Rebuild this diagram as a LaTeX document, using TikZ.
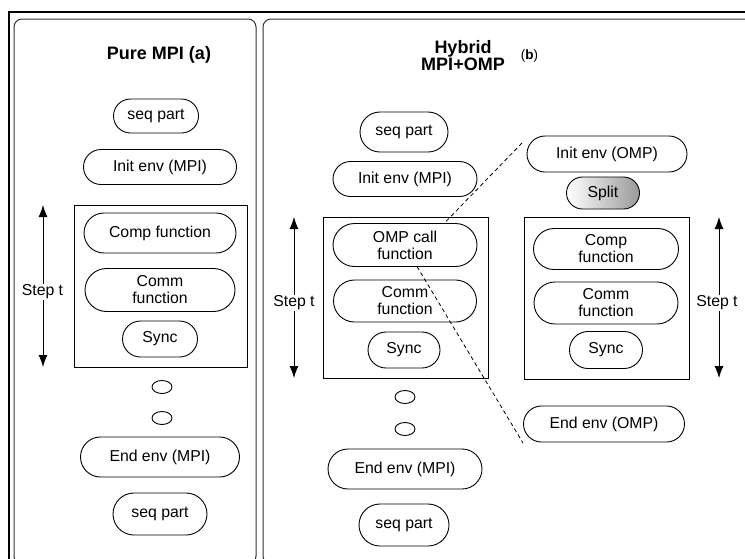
\documentclass[tikz,border=0pt]{standalone}
\usepackage{fontspec}
\setmainfont{Liberation Sans}
\usetikzlibrary{shapes.misc,shapes.geometric,arrows.meta}
\begin{document}
\begin{tikzpicture}[x=1pt,y=-1pt,
  blk/.style={draw, rounded rectangle, line width=0.9pt, inner sep=0pt, align=center,
    font=\fontsize{15.8}{17}\selectfont},
  boxfr/.style={draw, rectangle, line width=0.9pt, inner sep=0pt},
  dotel/.style={draw, ellipse, line width=0.9pt, inner sep=0pt, minimum width=20pt, minimum height=13pt},
  ttl/.style={align=center, font=\fontsize{18}{16}\selectfont\bfseries},
  steplbl/.style={fill=white, inner sep=1pt, font=\fontsize{15.8}{17}\selectfont},
  steparr/.style={line width=0.9pt, {Latex[length=12pt,width=9pt]}-{Latex[length=12pt,width=9pt]}},
  zoomln/.style={dashed, dash pattern=on 4pt off 3pt, line width=0.8pt},
  panel/.style={draw=black!80, line width=1pt, rounded corners=8pt}]
\useasboundingbox (0,0) rectangle (745,558);
\fill[white] (0,0) rectangle (745,558);
% frames
\draw[line width=1.2pt] (9,12) rectangle (752,566);
\draw[panel] (14,19) rectangle (256,564);
\draw[panel] (263,19) rectangle (752,564);

% ---------- panel (a)
\node[ttl] (ta) at (159,55) {Pure MPI (a)};
\node[boxfr, minimum width=173pt, minimum height=162pt] (ba) at (160.5,286) {};
\node[blk, minimum width=85pt, minimum height=34pt] (a1) at (156,116) {seq part};
\node[blk, minimum width=153pt, minimum height=35pt] (a2) at (160,167) {Init env (MPI)};
\node[blk, minimum width=152pt, minimum height=40pt] (a3) at (160,233) {Comp function};
\node[blk, minimum width=150pt, minimum height=43pt] (a4) at (160,290) {Comm\\function};
\node[blk, minimum width=75pt, minimum height=36pt] (a5) at (160,339) {Sync};
\node[dotel] (ad1) at (162,387) {};
\node[dotel] (ad2) at (162,418) {};
\node[blk, minimum width=159pt, minimum height=40pt] (a6) at (160,457) {End env (MPI)};
\node[blk, minimum width=94pt, minimum height=42pt] (a7) at (160,514) {seq part};
\coordinate (sa1) at (43,205);
\coordinate (sa2) at (43,367);
\draw[steparr] (sa1) -- (sa2);
\node[steplbl] (sla) at (42.5,292) {Step t};

% ---------- panel (b)
\node[ttl] (tb) at (463,55.5) {Hybrid\\MPI+OMP};
\node[font=\fontsize{13.5}{15}\selectfont, inner sep=0pt] (tbl) at (529.5,56.5) {(\textbf{b})};
\node[boxfr, minimum width=165pt, minimum height=161pt] (bb) at (405.5,297.5) {};
\node[blk, minimum width=88pt, minimum height=40pt] (b1) at (404,132) {seq part};
\node[blk, minimum width=144pt, minimum height=35pt] (b2) at (405,179) {Init env (MPI)};
\node[blk, minimum width=144pt, minimum height=43pt] (b3) at (405,245) {OMP call\\function};
\node[blk, minimum width=143pt, minimum height=42pt] (b4) at (405,301) {Comm\\function};
\node[blk, minimum width=72pt, minimum height=36pt] (b5) at (404,350) {Sync};
\node[dotel] (bd1) at (405,397) {};
\node[dotel] (bd2) at (405,429) {};
\node[blk, minimum width=154pt, minimum height=40pt] (b6) at (405,469) {End env (MPI)};
\node[blk, minimum width=90pt, minimum height=42pt] (b7) at (404,525) {seq part};
\coordinate (sb1) at (294,217);
\coordinate (sb2) at (294,378);
\draw[steparr] (sb1) -- (sb2);
\node[steplbl] (slb) at (294,303) {Step t};

% OMP expansion
\node[boxfr, minimum width=165pt, minimum height=162pt] (bc) at (606.5,298) {};
\node[blk, minimum width=160pt, minimum height=36pt] (c1) at (607,154) {Init env (OMP)};
\node[blk, minimum width=73pt, minimum height=32pt, left color=white, right color=black!40] (c2) at (603,193) {Split};
\node[blk, minimum width=145pt, minimum height=41pt] (c3) at (606,249) {Comp\\function};
\node[blk, minimum width=144pt, minimum height=42pt] (c4) at (606,303) {Comm\\function};
\node[blk, minimum width=73pt, minimum height=37pt] (c5) at (606,350) {Sync};
\node[blk, minimum width=161pt, minimum height=36pt] (c6) at (604,424) {End env (OMP)};
\coordinate (sc1) at (719,217);
\coordinate (sc2) at (719,378);
\draw[steparr] (sc1) -- (sc2);
\node[steplbl] (slc) at (717,303) {Step t};

% dashed zoom lines
\coordinate (z1a) at (522,143);
\coordinate (z1b) at (444,223.5);
\coordinate (z2a) at (417,266.5);
\coordinate (z2b) at (523,443);
\draw[zoomln] (z1a) -- (z1b);
\draw[zoomln] (z2a) -- (z2b);
\end{tikzpicture}
\end{document}
